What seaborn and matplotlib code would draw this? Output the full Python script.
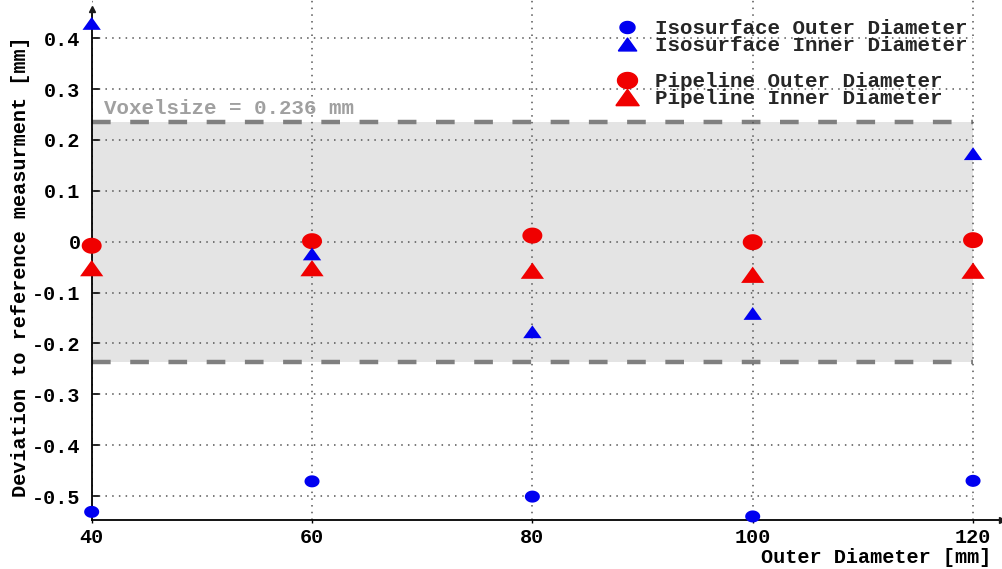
import numpy as np
import pandas as pd
import matplotlib
matplotlib.use("Agg")
import matplotlib.pyplot as plt
import seaborn as sns
from matplotlib.lines import Line2D

# ---- data ----
diameters = [40, 60, 80, 100, 120]
iso_outer = [-0.531, -0.471, -0.501, -0.540, -0.470]
iso_inner = [0.429, -0.024, -0.177, -0.141, 0.173]
pipe_outer = [-0.008, 0.001, 0.012, -0.001, 0.003]
pipe_inner = [-0.052, -0.052, -0.057, -0.065, -0.057]
voxelsize = 0.236
yticks = [-0.5, -0.4, -0.3, -0.2, -0.1, 0, 0.1, 0.2, 0.3, 0.4]
ytick_labels = ["-0.5", "-0.4", "-0.3", "-0.2", "-0.1", "0", "0.1", "0.2", "0.3", "0.4"]
labels = ["Isosurface Outer Diameter", "Isosurface Inner Diameter",
          "Pipeline Outer Diameter", "Pipeline Inner Diameter"]

sns.set_theme(style="white")
FONT = ["Liberation Mono", "DejaVu Sans Mono"]
plt.rcParams["font.family"] = FONT
plt.rcParams["font.weight"] = "bold"

# markers (slightly flattened, like the reference)
t = np.linspace(0, 2 * np.pi, 64)
ellipse = list(zip(np.cos(t), 0.8 * np.sin(t)))
tri = [(-1, -0.7), (1, -0.7), (0, 0.7), (-1, -0.7)]

fig = plt.figure(figsize=(10.03, 5.69), dpi=100)
ax = fig.add_axes([0.0914, 0.0861, 0.9073, 0.9139])

xmin, xmax = 40, 122.6
ymin, ymax = -0.547, 0.475
ax.set_xlim(xmin, xmax)
ax.set_ylim(ymin, ymax)

# voxel band
ax.fill_between([40, 120], -voxelsize, voxelsize, color="#e4e4e4", zorder=0, linewidth=0)
ax.hlines([-voxelsize, voxelsize], 40, 120, colors="#808080", linewidth=3.2,
          linestyles=(0, (4.2, 4.4)), zorder=1)
ax.text(41.1, voxelsize + 0.008, "Voxelsize = 0.236 mm", color="#a0a0a0",
        fontsize=15, fontweight="bold", va="bottom", ha="left", family=FONT)

# grid
ax.hlines(yticks, 40, 120, colors="#555555", linewidth=1.1, linestyles=(0, (1, 3.4)), zorder=1)
ax.vlines(diameters, ymin, ymax, colors="#555555", linewidth=1.1, linestyles=(0, (1, 3.4)), zorder=1)

df = pd.DataFrame({"d": diameters, "iso_o": iso_outer, "iso_i": iso_inner,
                   "pipe_o": pipe_outer, "pipe_i": pipe_inner})

sns.scatterplot(data=df, x="d", y="iso_o", marker=ellipse, s=117, color="#0000f0",
                edgecolor="none", ax=ax, zorder=4, clip_on=False)
sns.scatterplot(data=df, x="d", y="iso_i", marker=tri, s=175, color="#0000f0",
                edgecolor="none", ax=ax, zorder=5, clip_on=False)
sns.scatterplot(data=df, x="d", y="pipe_o", marker=ellipse, s=207, color="#f00000",
                edgecolor="none", ax=ax, zorder=4, clip_on=False)
sns.scatterplot(data=df, x="d", y="pipe_i", marker=tri, s=280, color="#f00000",
                edgecolor="none", ax=ax, zorder=3, clip_on=False)

# axes style
for s in ["top", "right"]:
    ax.spines[s].set_visible(False)
for s in ["left", "bottom"]:
    ax.spines[s].set_color("black")
    ax.spines[s].set_linewidth(1.3)
ax.spines["left"].set_bounds(ymin, 0.458)
ax.plot(40, 0.458, "^k", markersize=5, clip_on=False, zorder=6)
ax.plot(xmax, ymin, ">k", markersize=4, clip_on=False, zorder=6)

ax.set_xticks(diameters)
ax.set_xticklabels([str(d) for d in diameters])
ax.set_yticks(yticks)
ax.set_yticklabels(ytick_labels)
ax.tick_params(axis="y", direction="in", length=6, width=1.2, color="black",
               labelsize=14.5, pad=8, left=True)
ax.tick_params(axis="x", direction="out", length=2, width=1, color="black",
               labelsize=14.5, pad=4, bottom=True)
for lab in ax.get_xticklabels() + ax.get_yticklabels():
    lab.set_fontweight("bold")
    lab.set_color("black")

ax.set_xlabel("Outer Diameter [mm]", fontsize=14.5, fontweight="bold", color="black")
ax.xaxis.label.set_ha("right")
ax.xaxis.set_label_coords(0.989, -0.054)
ax.set_ylabel("Deviation to reference measurment [mm]", fontsize=14.5,
              fontweight="bold", color="black")
ax.yaxis.set_label_coords(-0.068, 0.487)

# legends
h1 = [Line2D([], [], marker=ellipse, color="#0000f0", linestyle="none", markersize=np.sqrt(117)),
      Line2D([], [], marker=tri, color="#0000f0", linestyle="none", markersize=np.sqrt(175))]
h2 = [Line2D([], [], marker=ellipse, color="#f00000", linestyle="none", markersize=np.sqrt(207)),
      Line2D([], [], marker=tri, color="#f00000", linestyle="none", markersize=np.sqrt(280))]
legkw = dict(loc="upper left", bbox_transform=fig.transFigure, frameon=False,
             labelspacing=-0.08, handlelength=1.2, handletextpad=0.75, borderpad=0,
             borderaxespad=0, prop={"family": FONT, "weight": "bold", "size": 15})
leg1 = ax.legend(h1, labels[:2], bbox_to_anchor=(614 / 1003, 1 - 19 / 569), **legkw)
ax.add_artist(leg1)
leg2 = ax.legend(h2, labels[2:], bbox_to_anchor=(614 / 1003, 1 - 72 / 569), **legkw)

fig.savefig("out.png", dpi=100, facecolor="white")
